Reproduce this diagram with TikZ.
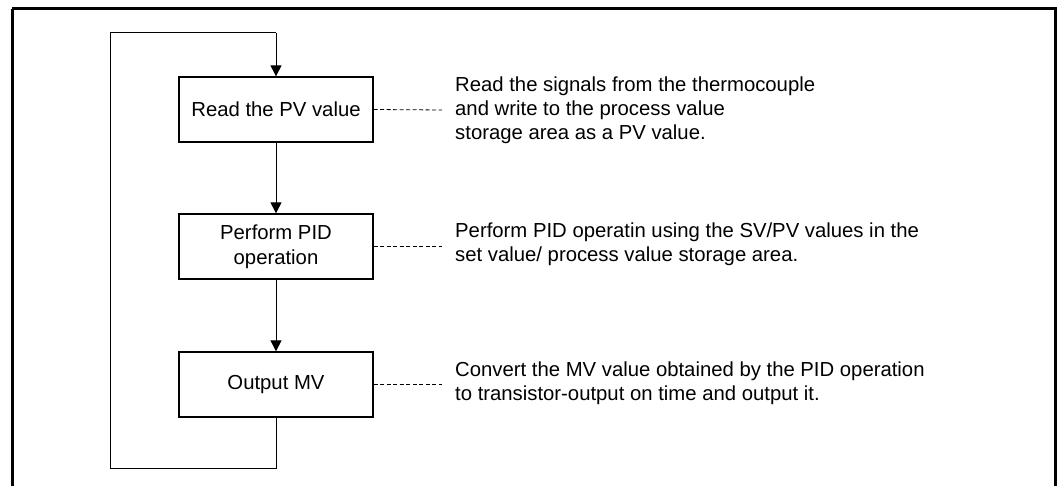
\documentclass[tikz,border=0pt]{standalone}
\usepackage{fontspec}
\setmainfont{Liberation Sans}
\usetikzlibrary{arrows.meta}
\begin{document}
\begin{tikzpicture}[x=1pt,y=-1pt,
  stepbox/.style={draw,line width=1.3pt,minimum width=194pt,minimum height=65pt,align=center,inner sep=0pt,
    font=\fontsize{20.3}{25}\selectfont},
  desc/.style={anchor=west,align=left,inner xsep=13pt,inner ysep=0pt,font=\fontsize{20.3}{24}\selectfont},
  flow/.style={line width=1pt,-{Triangle[length=11pt,width=11pt]}},
  loopline/.style={line width=1pt},
  leader/.style={line width=0.8pt,dash pattern=on 4pt off 2.5pt}]
\useasboundingbox (0,0) rectangle (1059,486);
\draw[line width=3pt] (12,9) -- (12,500) (12,9) -- (1055,9) -- (1055,500);
\node[stepbox] (b1) at (276,109.5) {Read the PV value};
\node[stepbox] (b2) at (276,246.5) {Perform PID\\operation};
\node[stepbox] (b3) at (276,384.5) {Output MV};
\node[desc] (d1) at (442,110) {Read the signals from the thermocouple\\and write to the process value\\storage area as a PV value.};
\node[desc] (d2) at (442,244) {Perform PID operatin using the SV/PV values in the\\set value/ process value storage area.};
\node[desc] (d3) at (442,383.5) {Convert the MV value obtained by the PID operation\\to transistor-output on time and output it.};
\draw[flow] (b1) -- (b2);
\draw[flow] (b2) -- (b3);
\coordinate (lb) at (276,468);
\coordinate (ll) at (110,468);
\coordinate (lt) at (110,33);
\coordinate (lr) at (276,33);
\draw[loopline] (b3.south) -- (lb) -- (ll) -- (lt) -- (lr);
\draw[flow] (lr) -- (b1.north);
\draw[leader] (b1.east) -- (d1.west);
\draw[leader] (b2.east) -- (b2.east -| d2.west);
\draw[leader] (b3.east) -- (b3.east -| d3.west);
\end{tikzpicture}
\end{document}
